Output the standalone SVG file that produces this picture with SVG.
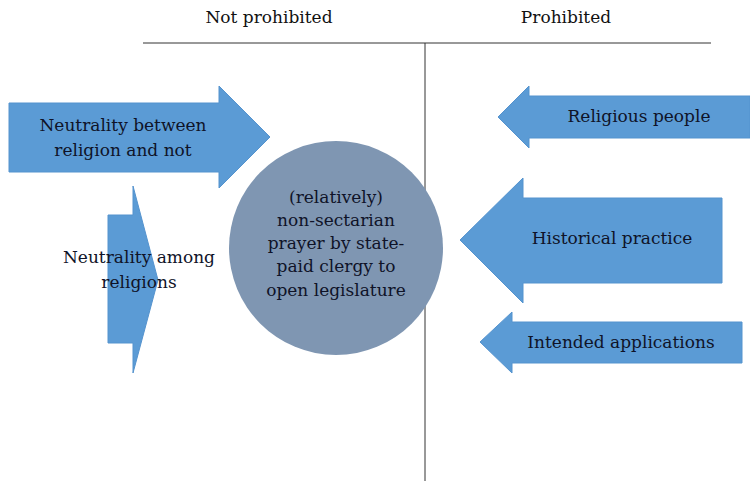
<svg xmlns="http://www.w3.org/2000/svg" width="750" height="481" viewBox="0 0 750 481">
<style>
.arrow{fill:#5B9BD5;stroke:#5593CE;stroke-width:1}
.t{font-family:"DejaVu Serif","Liberation Serif",serif;font-size:17px;fill:#0F1328;text-anchor:middle}
.h{font-family:"DejaVu Serif","Liberation Serif",serif;font-size:17px;fill:#111;text-anchor:middle}
.line{stroke:#333;stroke-width:1;fill:none}
</style>
<rect width="750" height="481" fill="#fff"/>
<g id="headers">
<text class="h" x="269" y="23">Not prohibited</text>
<text class="h" x="566" y="23">Prohibited</text>
</g>
<g id="connectors">
<line class="line" x1="143" y1="43" x2="711" y2="43"/>
<line class="line" x1="425" y1="43" x2="425" y2="481"/>
</g>
<g id="neutrality-between">
<polygon class="arrow" points="9,103 219,103 219,86 270,137 219,188 219,172 9,172"/>
<text class="t" x="123" y="131">Neutrality between</text>
<text class="t" x="123" y="156">religion and not</text>
</g>
<g id="neutrality-among">
<polygon class="arrow" points="108,215 133,215 133,186 158,280 133,373 133,343 108,343"/>
<text class="t" x="139" y="263">Neutrality among</text>
<text class="t" x="139" y="288">religions</text>
</g>
<g id="prayer">
<circle cx="336" cy="248" r="107" fill="#7F96B2"/>
<text class="t" x="336" y="203">(relatively)</text>
<text class="t" x="336" y="226">non-sectarian</text>
<text class="t" x="336" y="249">prayer by state-</text>
<text class="t" x="336" y="272">paid clergy to</text>
<text class="t" x="336" y="296">open legislature</text>
</g>
<g id="religious-people">
<polygon class="arrow" points="750,96 529,96 529,86 498,117 529,148 529,138 750,138"/>
<text class="t" x="639" y="122">Religious people</text>
</g>
<g id="historical-practice">
<polygon class="arrow" points="722,198 523,198 523,178 460,240 523,303 523,283 722,283"/>
<text class="t" x="612" y="244">Historical practice</text>
</g>
<g id="intended-applications">
<polygon class="arrow" points="742,322 512,322 512,312 480,342 512,373 512,363 742,363"/>
<text class="t" x="621" y="348">Intended applications</text>
</g>
</svg>
